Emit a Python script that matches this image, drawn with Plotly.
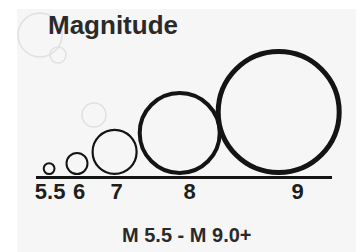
import plotly.graph_objects as go

# ---- data ----
magnitudes = [5.5, 6, 7, 8, 9]
mag_labels = ["5.5", "6", "7", "8", "9"]
title_text = "Magnitude"
range_text = "M 5.5 - M 9.0+"

# ---- style / layout constants ----
W, H = 364, 252
PAD = 8                                     # page body margin
circle_r = [5.4, 10.5, 22, 40, 60.5]        # centre-line radius per circle (px)
circle_w = [2, 2, 2.2, 4, 5]                # stroke width
circle_gap = [0, 10, 3, 0, -6]              # gap to previous circle
first_left = 42.7
baseline_y = 177.5
label_dx = [1, 2, 2, 10, 19]
label_y = 193
ink = "#141414"
FONT = "Liberation Sans, Arial"

# layout pass: place circles side by side on the baseline
cx, cy = [], []
edge = first_left
for r, w, g in zip(circle_r, circle_w, circle_gap):
    outer = r + w / 2
    c = edge + g + outer
    cx.append(c)
    cy.append(baseline_y - 2.5 - outer)
    edge = c + outer

fig = go.Figure()

shapes = []
# background panel
shapes.append(dict(type="rect", xref="x", yref="y", x0=17, y0=9, x1=W, y1=H,
                   fillcolor="#f6f6f6", line=dict(width=0), layer="below"))
# faint decorative bubbles
for (bx, by, br) in [(40, 35, 22), (58, 55, 8), (94, 115, 12)]:
    shapes.append(dict(type="circle", xref="x", yref="y",
                       x0=bx - br, x1=bx + br, y0=by - br, y1=by + br,
                       line=dict(color="#e0e0e0", width=1.5), layer="below"))
# magnitude circles
for c, y, r, w in zip(cx, cy, circle_r, circle_w):
    shapes.append(dict(type="circle", xref="x", yref="y",
                       x0=c - r, x1=c + r, y0=y - r, y1=y + r,
                       line=dict(color=ink, width=w)))
# baseline
shapes.append(dict(type="line", xref="x", yref="y", x0=36, x1=332,
                   y0=baseline_y, y1=baseline_y, line=dict(color=ink, width=3)))

fig.add_trace(go.Scatter(
    x=[c + d for c, d in zip(cx, label_dx)],
    y=[label_y] * len(magnitudes),
    mode="text", text=["<b>" + t + "</b>" for t in mag_labels],
    textfont=dict(family=FONT, size=22, color="#1e1e1e"),
    hoverinfo="skip", showlegend=False,
))

fig.add_annotation(x=46, y=25, xref="x", yref="y", text="<b>" + title_text + "</b>",
                   showarrow=False, xanchor="left", yanchor="middle",
                   font=dict(family=FONT, size=26, color="#2a2a2a"))
fig.add_annotation(x=187, y=235, xref="x", yref="y", text="<b>" + range_text + "</b>",
                   showarrow=False, xanchor="center", yanchor="middle",
                   font=dict(family=FONT, size=20, color="#2a2a2a"))

# the page body has an 8px margin, so the figure is offset by PAD;
# axis ranges are set so that data coordinates equal window pixels
fig.update_layout(
    width=W - PAD, height=H - PAD, margin=dict(l=0, r=0, t=0, b=0),
    paper_bgcolor="white", plot_bgcolor="white",
    shapes=shapes,
    xaxis=dict(range=[PAD, W], visible=False, fixedrange=True),
    yaxis=dict(range=[H, PAD], visible=False, fixedrange=True),
    showlegend=False,
)

fig.write_html("out.html", config={"displayModeBar": False})
